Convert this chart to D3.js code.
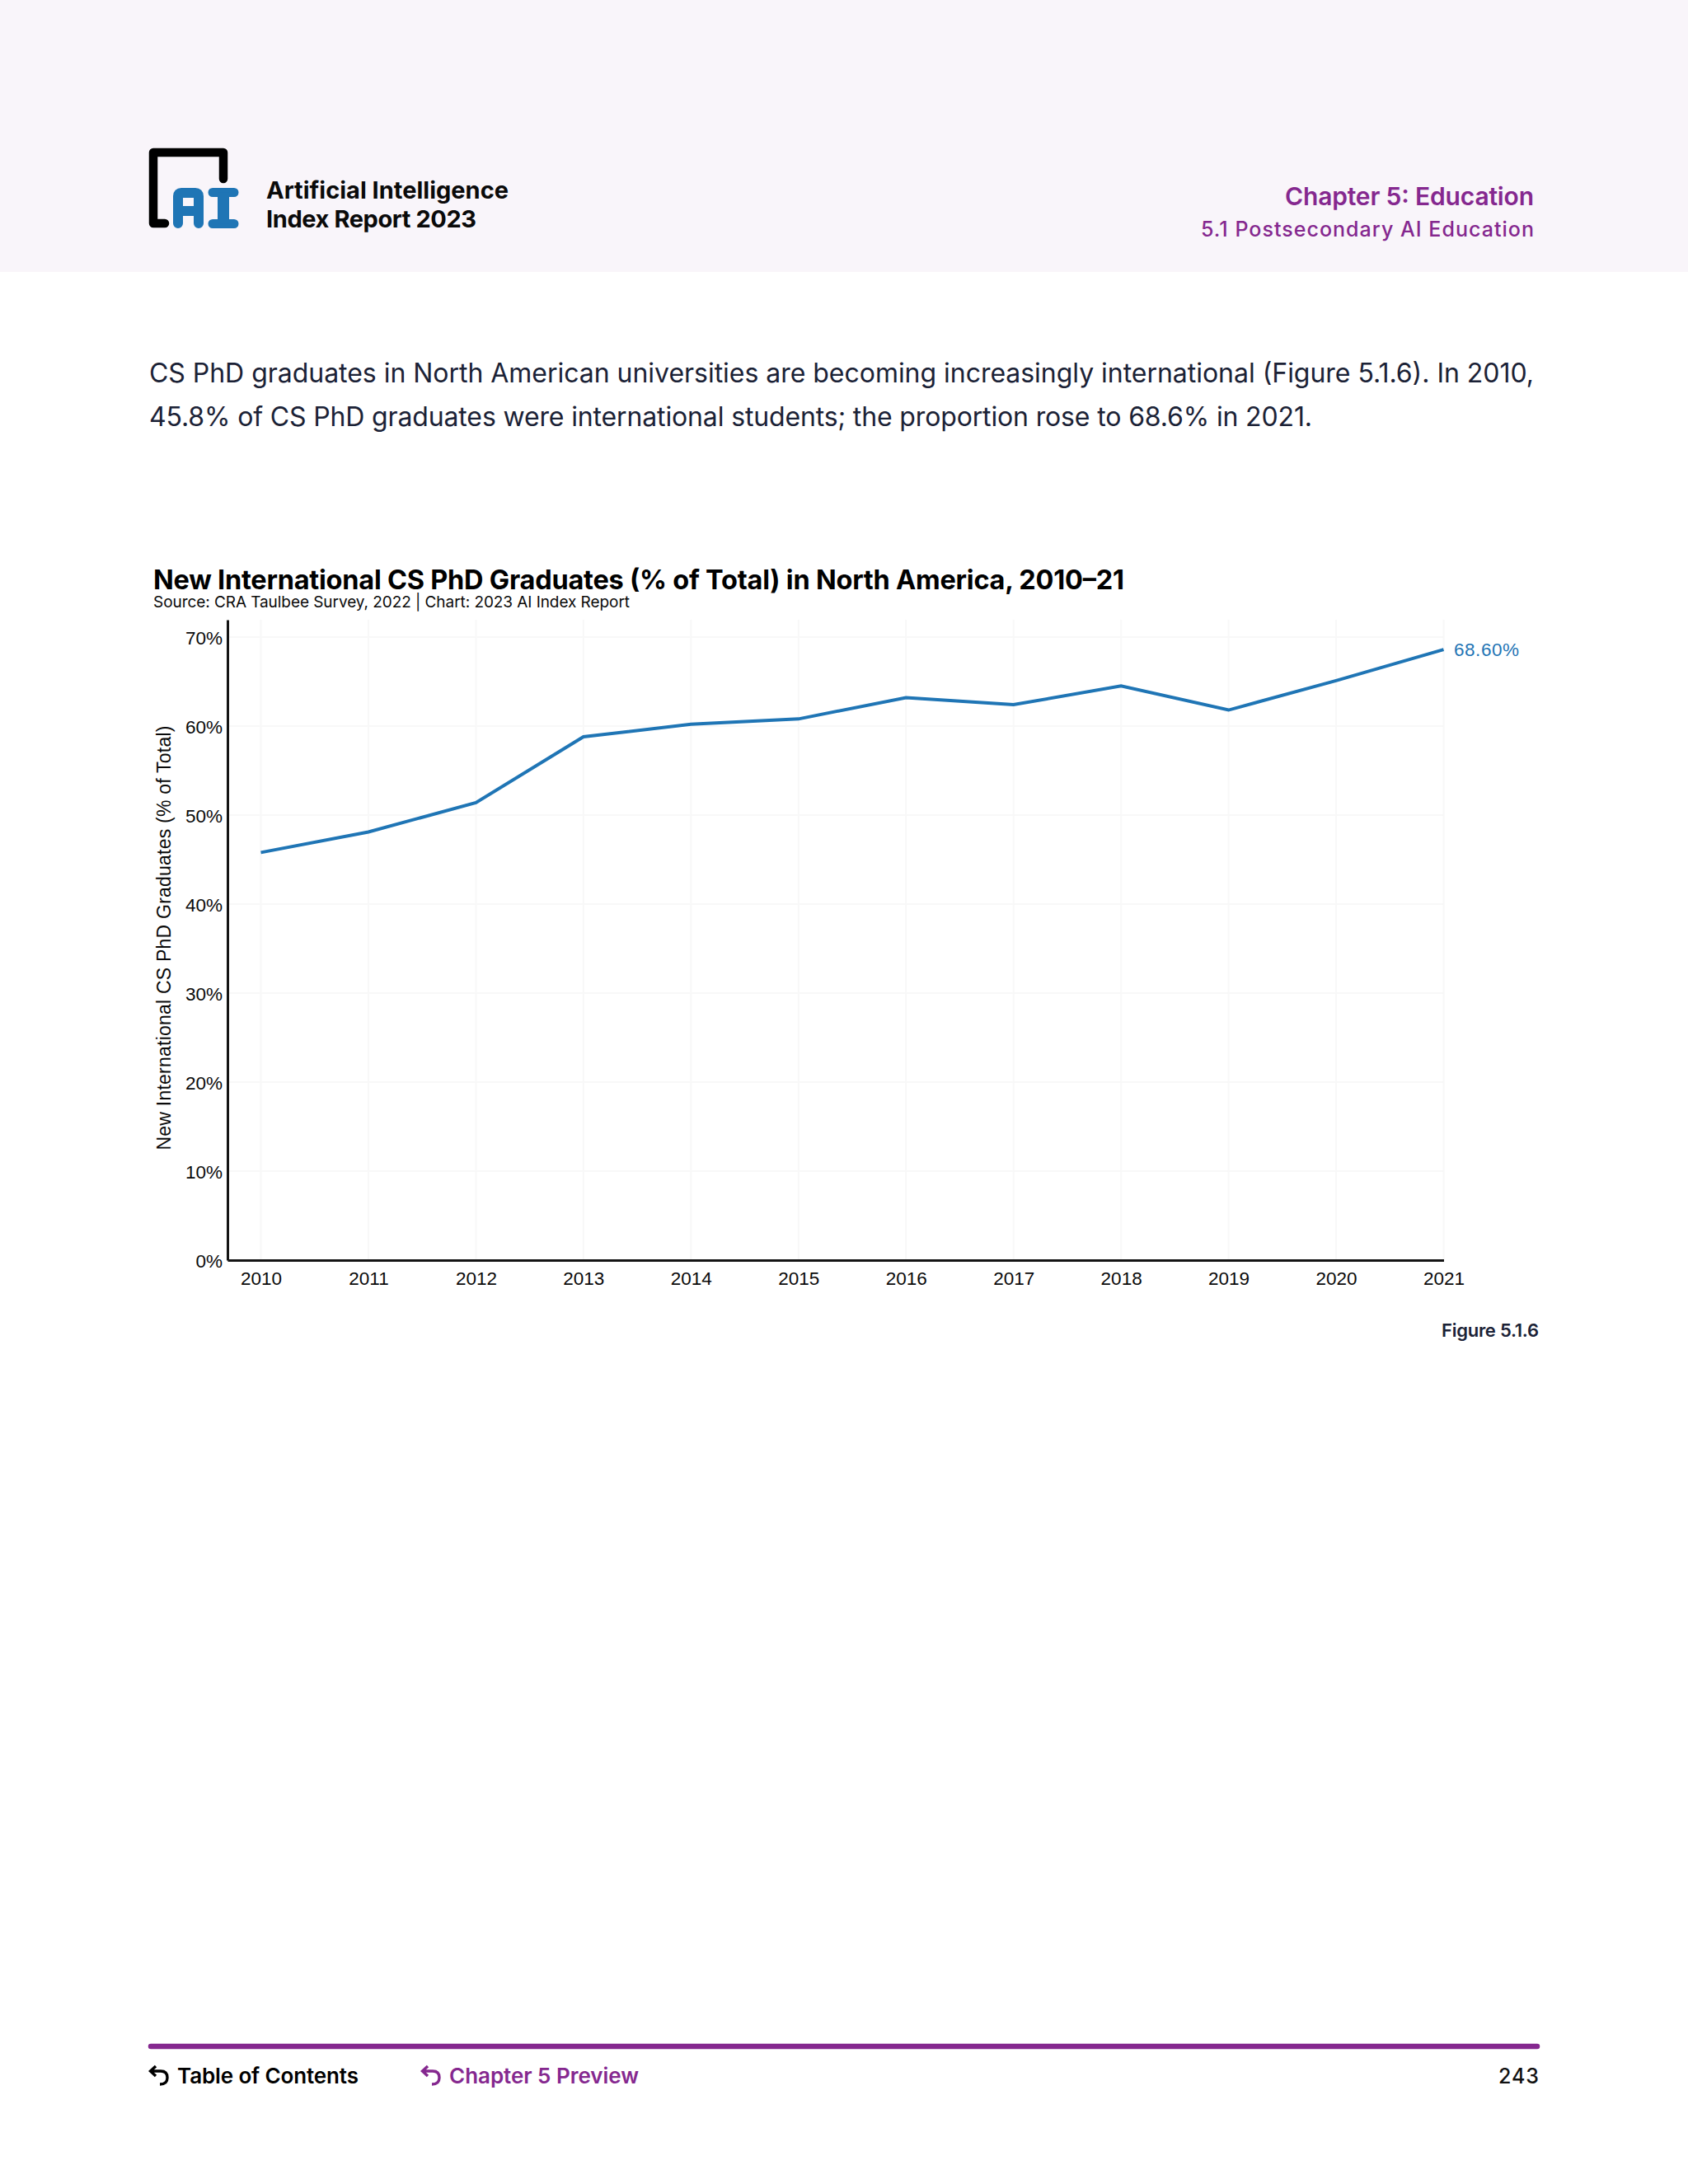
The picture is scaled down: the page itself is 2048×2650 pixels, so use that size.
<!DOCTYPE html>
<html><head><meta charset="utf-8">
<script src="https://cdn.jsdelivr.net/npm/d3@7"></script>
<style>
html,body{margin:0;padding:0;background:#fff}
svg{display:block}
.h{font-family:Inter,"Noto Sans",sans-serif}
.t{font-family:"Liberation Sans",Arial,sans-serif}
.domain{stroke:#141414;stroke-width:3}
</style></head><body>
<div id="chart"></div>
<script>
const years=[2010,2011,2012,2013,2014,2015,2016,2017,2018,2019,2020,2021];
const shares=[45.8,48.1,51.4,58.8,60.2,60.8,63.2,62.4,64.5,61.8,65.1,68.6];
const yTicks=[0,10,20,30,40,50,60,70];
const endLabel="68.60%";
const chartTitle="New International CS PhD Graduates (% of Total) in North America, 2010–21";
const chartSource="Source: CRA Taulbee Survey, 2022 | Chart: 2023 AI Index Report";
const yTitle="New International CS PhD Graduates (% of Total)";
const paragraph=["CS PhD graduates in North American universities are becoming increasingly international (Figure 5.1.6). In 2010,","45.8% of CS PhD graduates were international students; the proportion rose to 68.6% in 2021."];

const W=2048,H=2650,PURPLE="#85288f",BLUE="#1f75b5",INK="#1b2236";
const svg=d3.select("#chart").append("svg").attr("width",W).attr("height",H).attr("viewBox",`0 0 ${W} ${H}`);
svg.append("rect").attr("width",W).attr("height",H).attr("fill","#fff");
svg.append("rect").attr("width",W).attr("height",330).attr("fill","#f9f5fa");

function txt(s,x,y,size,weight,fill,len,anchor,cls){
  const e=svg.append("text").attr("class",cls||"h").attr("x",x).attr("y",y)
    .attr("font-size",size).attr("font-weight",weight).attr("fill",fill).attr("text-anchor",anchor||"start").text(s);
  if(len) e.attr("textLength",len).attr("lengthAdjust","spacing");
  return e;
}
// logo
const logo=svg.append("g");
logo.append("path").attr("d","M271 217V185H186V271H200").attr("fill","none").attr("stroke","#000").attr("stroke-width",10.5).attr("stroke-linecap","round").attr("stroke-linejoin","round");
logo.append("path").attr("d","M216 271V238Q216 234 220 234H237Q241 234 241 238V271M216 256H241").attr("fill","none").attr("stroke",BLUE).attr("stroke-width",12).attr("stroke-linecap","round");
logo.append("path").attr("d","M258 233.5H284M258 271.5H284").attr("fill","none").attr("stroke",BLUE).attr("stroke-width",11).attr("stroke-linecap","round");
logo.append("path").attr("d","M271 233.5V271.5").attr("fill","none").attr("stroke",BLUE).attr("stroke-width",14);
txt("Artificial Intelligence",323,241,29,700,"#0a0a0a",294);
txt("Index Report 2023",323,276,29,700,"#0a0a0a",255);
txt("Chapter 5: Education",1861,249,30,600,PURPLE,302,"end");
txt("5.1 Postsecondary AI Education",1861,287,25,500,PURPLE,404,"end");
txt(paragraph[0],181,464,32,400,INK,1680);
txt(paragraph[1],181,517,32,400,INK,1411);

// chart
const xPos=d3.scalePoint().domain(years).range([316.5,1751.5]);
const yPos=d3.scaleLinear().domain([0,70]).range([1529,773]);
const plotTop=752,plotLeft=276;
const grid=svg.append("g").attr("stroke","#f8f8f8").attr("stroke-width",2);
grid.selectAll("line.v").data(years).join("line").attr("class","v")
  .attr("x1",d=>xPos(d)).attr("x2",d=>xPos(d)).attr("y1",plotTop).attr("y2",yPos(0));
grid.selectAll("line.g").data(yTicks.filter(d=>d>0)).join("line").attr("class","g")
  .attr("x1",plotLeft).attr("x2",xPos(2021)).attr("y1",d=>yPos(d)).attr("y2",d=>yPos(d));

const yAxis=d3.axisLeft(d3.scaleLinear().domain([0,70+21/108*10]).range([1529,plotTop]))
  .tickValues(yTicks).tickFormat(d=>d+"%").tickSize(0).tickPadding(6);
const gy=svg.append("g").attr("transform",`translate(${plotLeft},1)`).call(yAxis);
gy.select(".domain").attr("transform","translate(0,-1)");
const xAxis=d3.axisBottom(d3.scaleLinear().domain([years[0]-40.5/130.45,2021]).range([plotLeft,xPos(2021)]))
  .tickValues(years).tickFormat(d3.format("d")).tickSize(0).tickPadding(14);
const gx=svg.append("g").attr("transform",`translate(0,${yPos(0)})`).call(xAxis);
[gx,gy].forEach(g=>g.selectAll("text").attr("class","t").attr("font-size",22.5).attr("fill","#0a0a0a").style("font-family",'"Liberation Sans",Arial,sans-serif'));

const lineGen=d3.line().x((d,i)=>xPos(years[i])).y(d=>yPos(d));
svg.append("path").datum(shares).attr("d",lineGen).attr("fill","none").attr("stroke",BLUE).attr("stroke-width",4);
txt(endLabel,1764,yPos(shares[shares.length-1])+8,22.5,400,BLUE,79,"start","t");

txt(chartTitle,186,714.5,32.5,700,"#000",1178);
txt(chartSource,186,737,19,400,"#0a0a0a",578);
txt(yTitle,0,0,23,400,"#0a0a0a",515,"middle","t").attr("transform","translate(207,1138) rotate(-90)");
txt("Figure 5.1.6",1867,1622,22,600,INK,118,"end");

// footer
svg.append("line").attr("x1",183).attr("x2",1865).attr("y1",2483).attr("y2",2483).attr("stroke",PURPLE).attr("stroke-width",6.5).attr("stroke-linecap","round");
function backIcon(dx,col){
  svg.append("path").attr("transform",`translate(${dx},2507)`).attr("d","M8 0L1.5 6L8 12M2 6H14Q22 6 22 14Q22 22 13 22").attr("fill","none").attr("stroke",col).attr("stroke-width",3.4);
}
backIcon(181,"#000");backIcon(511,PURPLE);
txt("Table of Contents",215,2528,26,600,"#000",220);
txt("Chapter 5 Preview",545,2528,26,600,PURPLE,230);
txt("243",1867,2528,25,500,"#111",49,"end");
</script></body></html>
